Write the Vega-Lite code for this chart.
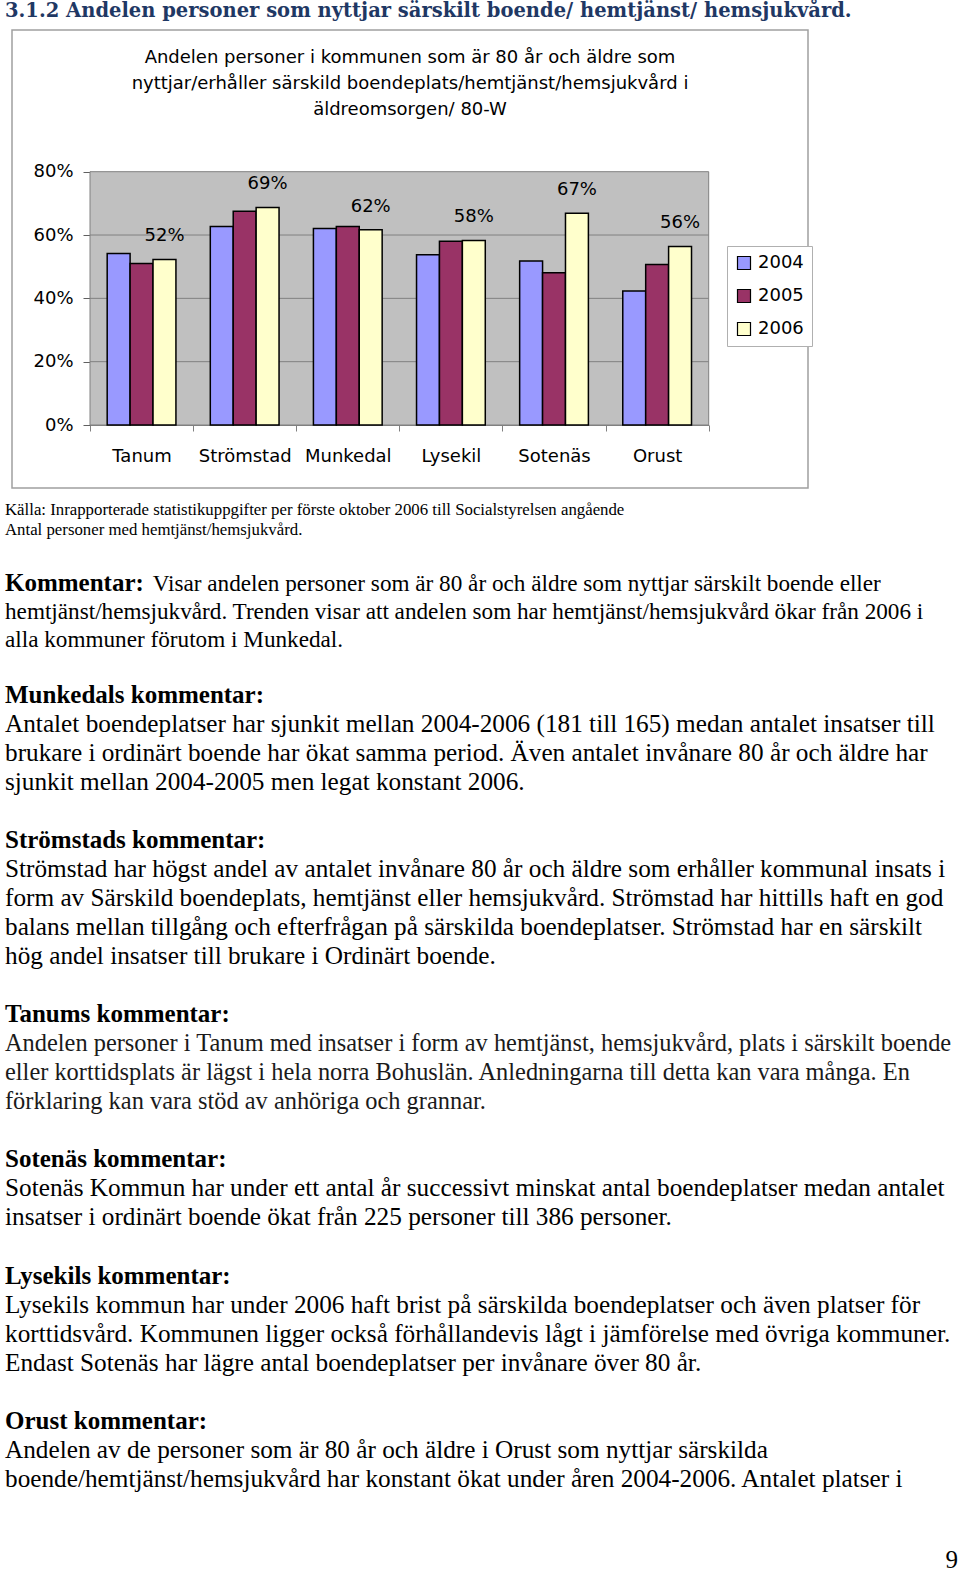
{
  "$schema": "https://vega.github.io/schema/vega-lite/v6.json",
  "padding": {"left": 5, "top": 0, "right": 0, "bottom": 0},
  "spacing": 0,
  "bounds": "flush",
  "background": "white",
  "config": {"view": {"stroke": null}},
  "vconcat": [
    {
      "width": 946,
      "height": 30,
      "data": {"values": [{"t": "3.1.2 Andelen personer som nyttjar särskilt boende/ hemtjänst/ hemsjukvård."}]},
      "mark": {"type": "text", "align": "left", "baseline": "alphabetic", "dx": -7, "dy": 2, "font": "DejaVu Serif", "fontWeight": "bold", "fontSize": 19.5, "color": "#1F3864"},
      "encoding": {
        "x": {"datum": 0, "type": "quantitative", "scale": {"domain": [0, 1]}, "axis": null},
        "text": {"field": "t"}
      }
    },
    {
      "width": 796,
      "height": 458,
      "view": {"stroke": "#a0a0a0", "strokeWidth": 1.5},
      "title": {
        "text": ["Andelen personer i kommunen som är 80 år och äldre som", "nyttjar/erhåller särskild boendeplats/hemtjänst/hemsjukvård i", "äldreomsorgen/ 80-W"],
        "orient": "top", "anchor": "middle", "frame": "group", "offset": -89, "baseline": "top",
        "lineHeight": 26, "font": "DejaVu Sans", "fontSize": 18, "fontWeight": "normal", "color": "black"
      },
      "layer": [
        {
          "layer": [
            {
              "data": {"values": [{"area": "plot"}]},
              "mark": {"type": "rect", "fill": "#c0c0c0", "stroke": "#808080", "strokeWidth": 1},
              "encoding": {
                "x": {"datum": 0, "type": "quantitative", "scale": {"domain": [0, 1], "range": [78, 696.7]}, "axis": null},
                "x2": {"datum": 1},
                "y": {
                  "datum": 0, "type": "quantitative",
                  "axis": {
                    "title": null, "offset": -78, "values": [0, 0.2, 0.4, 0.6, 0.8], "format": ".0%", "grid": false,
                    "labelFont": "DejaVu Sans", "labelFontSize": 18, "labelColor": "black", "labelPadding": 10,
                    "tickSize": 7, "tickColor": "#606060", "domainColor": "#606060"
                  }
                },
                "y2": {"datum": 0.8}
              }
            },
            {
              "data": {"values": [{"g": 0.2}, {"g": 0.4}, {"g": 0.6}]},
              "mark": {"type": "rule", "color": "#808080", "strokeWidth": 1},
              "encoding": {
                "x": {"datum": 0, "type": "quantitative", "axis": null},
                "x2": {"datum": 1},
                "y": {
                  "field": "g", "type": "quantitative",
                  "axis": {
                    "title": null, "offset": -78, "values": [0, 0.2, 0.4, 0.6, 0.8], "format": ".0%", "grid": false,
                    "labelFont": "DejaVu Sans", "labelFontSize": 18, "labelColor": "black", "labelPadding": 10,
                    "tickSize": 7, "tickColor": "#606060", "domainColor": "#606060"
                  }
                }
              }
            }
          ]
        },
        {
          "data": {"values": [
            {"kommun": "Tanum", "year": "2004", "value": 0.542},
            {"kommun": "Tanum", "year": "2005", "value": 0.510},
            {"kommun": "Tanum", "year": "2006", "value": 0.523},
            {"kommun": "Strömstad", "year": "2004", "value": 0.627},
            {"kommun": "Strömstad", "year": "2005", "value": 0.675},
            {"kommun": "Strömstad", "year": "2006", "value": 0.687},
            {"kommun": "Munkedal", "year": "2004", "value": 0.621},
            {"kommun": "Munkedal", "year": "2005", "value": 0.627},
            {"kommun": "Munkedal", "year": "2006", "value": 0.617},
            {"kommun": "Lysekil", "year": "2004", "value": 0.538},
            {"kommun": "Lysekil", "year": "2005", "value": 0.580},
            {"kommun": "Lysekil", "year": "2006", "value": 0.583},
            {"kommun": "Sotenäs", "year": "2004", "value": 0.518},
            {"kommun": "Sotenäs", "year": "2005", "value": 0.481},
            {"kommun": "Sotenäs", "year": "2006", "value": 0.669},
            {"kommun": "Orust", "year": "2004", "value": 0.423},
            {"kommun": "Orust", "year": "2005", "value": 0.507},
            {"kommun": "Orust", "year": "2006", "value": 0.564}
          ]},
          "encoding": {
            "x": {
              "field": "kommun", "type": "nominal",
              "scale": {"domain": ["Tanum", "Strömstad", "Munkedal", "Lysekil", "Sotenäs", "Orust"], "range": [78, 696.7], "paddingInner": 0, "paddingOuter": 0},
              "axis": {
                "title": null, "orient": "bottom", "offset": -63, "tickBand": "extent", "labelAngle": 0,
                "labelFont": "DejaVu Sans", "labelFontSize": 18, "labelColor": "black", "labelPadding": 16.5,
                "tickSize": 6, "tickColor": "#808080", "domainColor": "#808080", "labelOverlap": false, "grid": false
              }
            },
            "xOffset": {"field": "year", "type": "nominal", "scale": {"domain": ["2004", "2005", "2006"], "paddingInner": 0, "paddingOuter": 0.75}},
            "y": {
              "field": "value", "type": "quantitative",
              "scale": {"domain": [0, 0.8], "range": [395, 141.7], "nice": false},
              "axis": {
                "title": null, "offset": -78, "values": [0, 0.2, 0.4, 0.6, 0.8], "format": ".0%", "grid": false,
                "labelFont": "DejaVu Sans", "labelFontSize": 18, "labelColor": "black", "labelPadding": 10,
                "tickSize": 7, "tickColor": "#606060", "domainColor": "#606060"
              }
            }
          },
          "layer": [
            {
              "mark": {"type": "bar", "stroke": "black", "strokeWidth": 1.5},
              "encoding": {
                "color": {
                  "field": "year", "type": "nominal",
                  "scale": {"domain": ["2004", "2005", "2006"], "range": ["#9999FF", "#993366", "#FFFFCC"]},
                  "legend": {
                    "title": null, "orient": "none", "legendX": 715, "legendY": 246, "padding": 8,
                    "strokeColor": "#b0b0b0", "fillColor": "white", "symbolType": "square", "symbolSize": 169,
                    "symbolStrokeColor": "black", "symbolStrokeWidth": 1.2, "symbolOpacity": 1,
                    "labelFont": "DejaVu Sans", "labelFontSize": 18, "labelColor": "black", "rowPadding": 15, "labelOffset": 5
                  }
                }
              }
            },
            {
              "transform": [{"filter": "datum.year == '2006'"}],
              "mark": {"type": "text", "baseline": "middle", "dy": -23, "font": "DejaVu Sans", "fontSize": 18, "color": "black"},
              "encoding": {"text": {"field": "value", "type": "quantitative", "format": ".0%"}}
            }
          ]
        }
      ],
      "resolve": {"scale": {"x": "independent"}, "axis": {"x": "independent"}}
    },
    {
      "width": 946,
      "height": 1087,
      "layer": [
        {
          "data": {"values": [
            {"n": 1, "t": "Källa: Inrapporterade statistikuppgifter per förste oktober 2006 till Socialstyrelsen angående"},
            {"n": 2, "t": "Antal personer med hemtjänst/hemsjukvård."}
          ]},
          "mark": {"type": "text", "align": "left", "baseline": "alphabetic", "dx": -7, "font": "Liberation Serif", "fontSize": 16.8, "color": "black"},
          "encoding": {
            "x": {"datum": 0, "type": "quantitative", "scale": {"domain": [0, 1]}, "axis": null},
            "y": {"field": "n", "type": "quantitative", "scale": {"domain": [1, 2], "range": [26.5, 46.5]}, "axis": null},
            "text": {"field": "t"}
          }
        },
        {
          "data": {"values": [
            {"n": 1, "part": "lead", "t": "Kommentar:"},
            {"n": 1, "part": "rest", "t": "Visar andelen personer som är 80 år och äldre som nyttjar särskilt boende eller"},
            {"n": 2, "part": "line", "t": "hemtjänst/hemsjukvård. Trenden visar att andelen som har hemtjänst/hemsjukvård ökar från 2006 i"},
            {"n": 3, "part": "line", "t": "alla kommuner förutom i Munkedal."}
          ]},
          "encoding": {
            "x": {"datum": 0, "type": "quantitative", "axis": null},
            "y": {"field": "n", "type": "quantitative", "scale": {"domain": [1, 3], "range": [103, 158.6]}, "axis": null},
            "text": {"field": "t"}
          },
          "layer": [
            {
              "transform": [{"filter": "datum.part == 'lead'"}],
              "mark": {"type": "text", "align": "left", "baseline": "alphabetic", "dx": -7, "font": "Liberation Serif", "fontWeight": "bold", "fontSize": 25, "color": "black"}
            },
            {
              "transform": [{"filter": "datum.part == 'rest'"}],
              "mark": {"type": "text", "align": "left", "baseline": "alphabetic", "dx": 140.7, "font": "Liberation Serif", "fontSize": 23.2, "color": "black"}
            },
            {
              "transform": [{"filter": "datum.part == 'line'"}],
              "mark": {"type": "text", "align": "left", "baseline": "alphabetic", "dx": -7, "font": "Liberation Serif", "fontSize": 23.2, "color": "black"}
            }
          ]
        },
        {
          "data": {"values": [
            {"n": 0, "para": "Munkedal", "role": "h", "t": "Munkedals kommentar:"},
            {"n": 1, "para": "Munkedal", "role": "b", "t": "Antalet boendeplatser har sjunkit mellan 2004-2006 (181 till 165) medan antalet insatser till"},
            {"n": 2, "para": "Munkedal", "role": "b", "t": "brukare i ordinärt boende har ökat samma period. Även antalet invånare 80 år och äldre har"},
            {"n": 3, "para": "Munkedal", "role": "b", "t": "sjunkit mellan 2004-2005 men legat konstant 2006."},
            {"n": 5, "para": "Strömstad", "role": "h", "t": "Strömstads kommentar:"},
            {"n": 6, "para": "Strömstad", "role": "b", "t": "Strömstad har högst andel av antalet invånare 80 år och äldre som erhåller kommunal insats i"},
            {"n": 7, "para": "Strömstad", "role": "b", "t": "form av Särskild boendeplats, hemtjänst eller hemsjukvård. Strömstad har hittills haft en god"},
            {"n": 8, "para": "Strömstad", "role": "b", "t": "balans mellan tillgång och efterfrågan på särskilda boendeplatser. Strömstad har en särskilt"},
            {"n": 9, "para": "Strömstad", "role": "b", "t": "hög andel insatser till brukare i Ordinärt boende."},
            {"n": 11, "para": "Tanum", "role": "h", "t": "Tanums kommentar:"},
            {"n": 12, "para": "Tanum", "role": "b", "t": "Andelen personer i Tanum med insatser i form av hemtjänst, hemsjukvård, plats i särskilt boende"},
            {"n": 13, "para": "Tanum", "role": "b", "t": "eller korttidsplats är lägst i hela norra Bohuslän. Anledningarna till detta kan vara många. En"},
            {"n": 14, "para": "Tanum", "role": "b", "t": "förklaring kan vara stöd av anhöriga och grannar."},
            {"n": 16, "para": "Sotenäs", "role": "h", "t": "Sotenäs kommentar:"},
            {"n": 17, "para": "Sotenäs", "role": "b", "t": "Sotenäs Kommun har under ett antal år successivt minskat antal boendeplatser medan antalet"},
            {"n": 18, "para": "Sotenäs", "role": "b", "t": "insatser i ordinärt boende ökat från 225 personer till 386 personer."},
            {"n": 20, "para": "Lysekil", "role": "h", "t": "Lysekils kommentar:"},
            {"n": 21, "para": "Lysekil", "role": "b", "t": "Lysekils kommun har under 2006 haft brist på särskilda boendeplatser och även platser för"},
            {"n": 22, "para": "Lysekil", "role": "b", "t": "korttidsvård. Kommunen ligger också förhållandevis lågt i jämförelse med övriga kommuner."},
            {"n": 23, "para": "Lysekil", "role": "b", "t": "Endast Sotenäs har lägre antal boendeplatser per invånare över 80 år."},
            {"n": 25, "para": "Orust", "role": "h", "t": "Orust kommentar:"},
            {"n": 26, "para": "Orust", "role": "b", "t": "Andelen av de personer som är 80 år och äldre i Orust som nyttjar särskilda"},
            {"n": 27, "para": "Orust", "role": "b", "t": "boende/hemtjänst/hemsjukvård har konstant ökat under åren 2004-2006. Antalet platser i"},
            {"n": 30, "para": "page", "role": "p", "t": "9"}
          ]},
          "encoding": {
            "y": {"field": "n", "type": "quantitative", "scale": {"domain": [0, 30], "range": [214.5, 1086]}, "axis": null},
            "text": {"field": "t"}
          },
          "layer": [
            {
              "transform": [{"filter": "datum.role == 'h'"}],
              "mark": {"type": "text", "align": "left", "baseline": "alphabetic", "dx": -7, "font": "Liberation Serif", "fontWeight": "bold", "fontSize": 25, "color": "black"},
              "encoding": {"x": {"datum": 0, "type": "quantitative", "axis": null}}
            },
            {
              "transform": [{"filter": "datum.role == 'b' && datum.para != 'Tanum'"}],
              "mark": {"type": "text", "align": "left", "baseline": "alphabetic", "dx": -7, "font": "Liberation Serif", "fontSize": 25.25, "color": "black"},
              "encoding": {"x": {"datum": 0, "type": "quantitative", "axis": null}}
            },
            {
              "transform": [{"filter": "datum.role == 'b' && datum.para == 'Tanum'"}],
              "mark": {"type": "text", "align": "left", "baseline": "alphabetic", "dx": -7, "font": "Liberation Serif", "fontSize": 24.4, "color": "#1a1a1a"},
              "encoding": {"x": {"datum": 0, "type": "quantitative", "axis": null}}
            },
            {
              "transform": [{"filter": "datum.role == 'p'"}],
              "mark": {"type": "text", "align": "right", "baseline": "alphabetic", "dy": -6, "font": "Liberation Serif", "fontSize": 25, "color": "black"},
              "encoding": {"x": {"datum": 1, "type": "quantitative", "axis": null}}
            }
          ]
        }
      ],
      "resolve": {"scale": {"y": "independent"}}
    }
  ]
}
